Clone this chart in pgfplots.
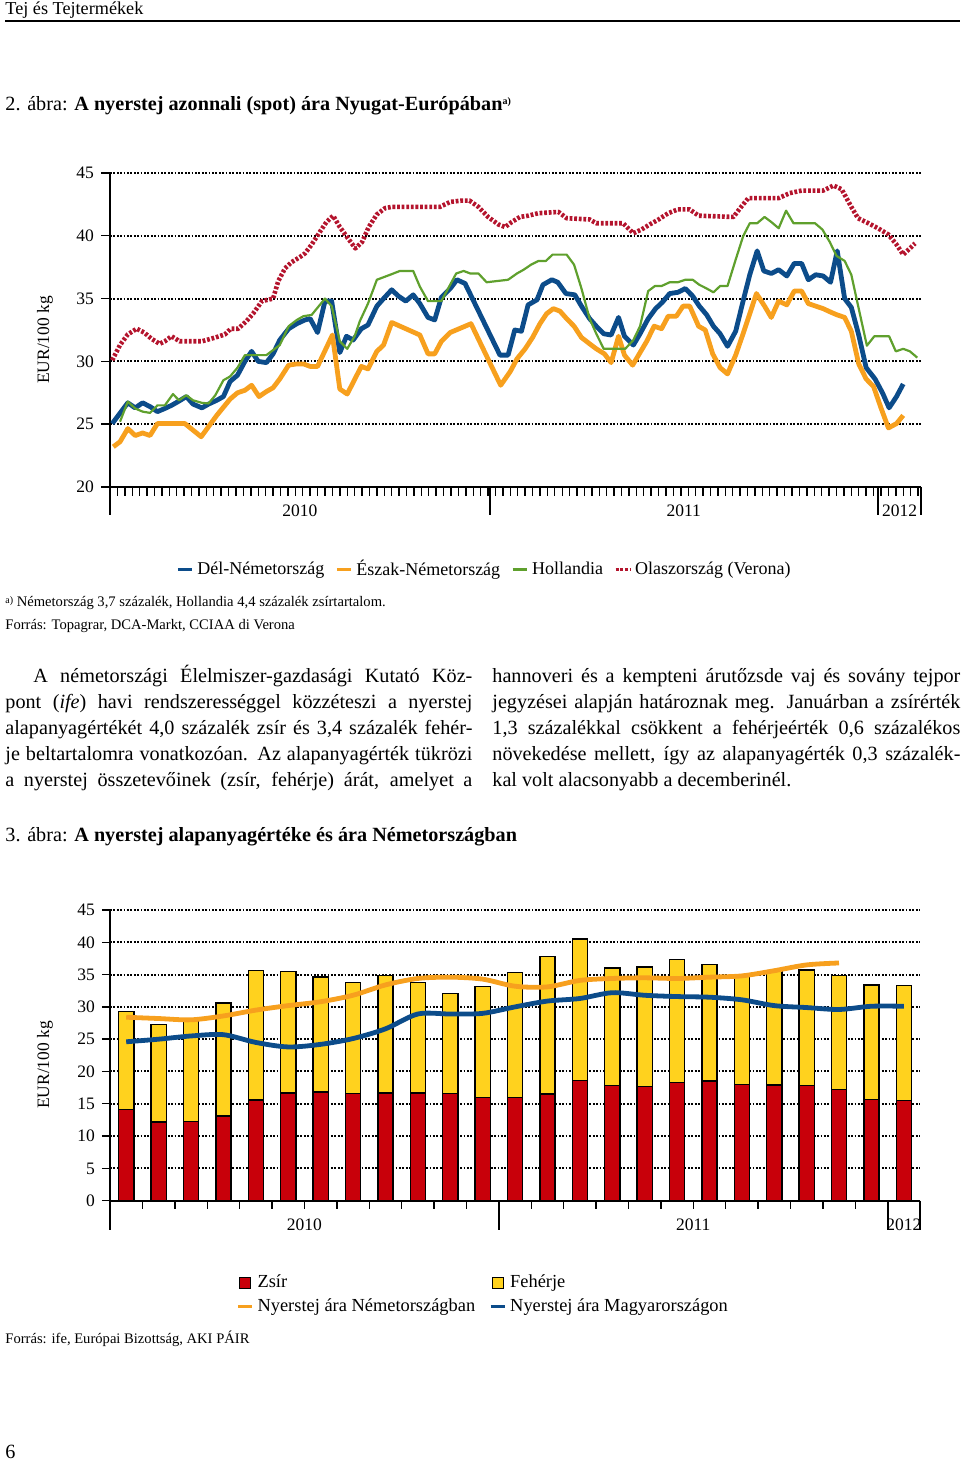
\documentclass[border=0pt]{standalone}
\usepackage{pgfplots}
\pgfplotsset{compat=1.18}
\usepackage{fontspec}
\setmainfont{Liberation Serif}
\definecolor{cblue}{RGB}{12,76,138}
\definecolor{corange}{RGB}{247,160,30}
\definecolor{cgreen}{RGB}{95,160,45}
\definecolor{cred}{RGB}{180,20,45}
\definecolor{zsir}{RGB}{200,0,10}
\definecolor{feh}{RGB}{255,210,30}
\newcommand{\bodyfont}{\fontsize{10.1}{12}\selectfont}
\newcommand{\smallfont}{\fontsize{7.3}{9}\selectfont}
\newcommand{\tickfont}{\fontsize{8.75}{10}\selectfont}
\begin{document}
\begin{tikzpicture}[x=0.5pt,y=0.5pt]
\useasboundingbox (0,0) rectangle (960,1463);
% header
\node[anchor=base west,inner sep=0] at (5,1448) {\fontsize{9.1}{11}\selectfont Tej és Tejtermékek};
\draw[line width=1.1pt] (5,1442.3) -- (960,1442.3);
\node[anchor=base west,inner sep=0] at (5,1352) {\bodyfont 2. ábra: \textbf{A nyerstej azonnali (spot) ára Nyugat-Európában}\raisebox{0.7ex}{\fontsize{5}{6}\selectfont\bfseries a)}};

% ---------------- chart 1 ----------------
\begin{axis}[
  at={(55pt,488pt)}, anchor=south west,
  scale only axis, width=405.5pt, height=157pt,
  xmin=0, xmax=109.4, ymin=20, ymax=45,
  axis x line*=bottom, axis y line*=left,
  axis line style={line width=0.9pt,-},
  clip=false,
  tick align=outside, major tick length=4.5pt,
  xtick={0,1,...,109}, xticklabel=\empty,
  ytick={20,25,...,45},
  tick style={line width=0.7pt, black},
  tick label style={font=\tickfont},
  /pgf/number format/assume math mode=true,
  ymajorgrids, grid style={line width=1pt, black, dash pattern=on 0.9pt off 0.8pt},
  legend columns=4,
  legend style={at={(0.463,-0.262)}, anchor=center, draw=none, fill=none,
    font=\fontsize{9}{10}\selectfont, inner sep=0pt,
    /tikz/every even column/.append style={column sep=3.5pt}},
  legend image code/.code={\draw[#1, line width=1.5pt] (0pt,0pt) -- (7pt,0pt);},
  every axis plot/.append style={line join=round},
]
\addplot[cblue, line width=2.4pt] coordinates {
(0.3,25.05) (2.4,26.7) (3.4,26.3) (4.4,26.7) (5.4,26.4) (6.4,26.0) (7.4,26.25) (8.3,26.5) (9.2,26.8) (10.3,27.2)
(11.2,26.6) (12.4,26.3) (13.3,26.6) (14.4,26.9) (15.3,27.2) (16.2,28.4) (17.2,28.9) (18.2,30.0) (19.1,30.8) (20.0,30.0)
(21.1,29.9) (22.0,30.6) (22.9,31.7) (24.1,32.6) (25.2,33.0) (26.3,33.3) (27.0,33.4) (28.0,32.3) (29.0,34.8) (29.9,34.8)
(31.0,30.7) (31.9,32.0) (32.8,31.7) (33.9,32.6) (34.8,32.9) (36.0,34.4) (36.9,35.0) (38.0,35.7) (38.9,35.2) (39.9,34.8)
(40.9,35.3) (41.8,34.6) (42.9,33.5) (43.8,33.3) (44.7,35.1) (45.9,35.8) (46.8,36.5) (47.9,36.2) (52.6,30.5) (53.7,30.5)
(54.6,32.5) (55.5,32.4) (56.4,34.5) (57.6,34.9) (58.4,36.1) (59.6,36.5) (60.4,36.3) (61.5,35.4) (62.7,35.3) (63.6,34.4)
(64.7,33.4) (65.6,32.8) (66.6,32.2) (67.6,32.1) (68.6,33.5) (69.4,32.0) (70.6,31.3) (71.5,32.2) (72.6,33.4) (73.6,34.2)
(74.5,34.7) (75.5,35.4) (76.6,35.5) (77.6,35.8) (78.6,35.2) (79.5,34.4) (80.5,33.7) (81.4,32.8) (82.3,32.2) (83.3,31.2)
(84.4,32.4) (85.4,34.8) (86.3,36.9) (87.3,38.8) (88.2,37.2) (89.2,37.0) (90.2,37.3) (91.3,36.8) (92.3,37.8) (93.3,37.8)
(94.2,36.5) (95.2,36.9) (96.2,36.8) (97.2,36.3) (98.1,38.8) (99.1,35.0) (100.0,34.3) (101.0,32.1) (102.0,29.5) (103.2,28.6)
(104.2,27.5) (105.1,26.3) (106.1,27.2) (107.0,28.2)};
\addlegendentry{Dél-Németország}
\addplot[corange, line width=2.4pt] coordinates {
(0.45,23.2) (1.35,23.6) (2.4,24.65) (3.4,24.1) (4.4,24.3) (5.4,24.1) (6.4,25.05) (10.1,25.05) (12.3,24.0) (14.4,25.7)
(16.2,27.0) (17.2,27.5) (18.2,27.7) (19.1,28.1) (20.1,27.2) (21.1,27.6) (22.0,27.9) (22.9,28.6) (24.1,29.7) (25.2,29.8)
(26.1,29.8) (27.0,29.6) (28.0,29.6) (30.0,32.1) (31.0,27.8) (32.0,27.4) (33.9,29.6) (34.8,29.4) (36.0,30.8) (36.9,31.3)
(38.0,33.1) (41.8,32.1) (42.9,30.6) (43.8,30.6) (44.7,31.6) (45.9,32.3) (48.7,33.0) (52.7,28.1) (54.0,29.2) (54.9,30.2)
(56.0,31.0) (57.0,31.9) (58.0,33.0) (58.9,33.8) (59.8,34.2) (60.7,34.0) (61.6,33.4) (62.6,32.8) (63.6,31.9) (64.7,31.4)
(65.6,31.0) (66.7,30.6) (67.6,29.9) (68.6,32.0) (69.4,30.5) (70.5,29.7) (71.5,30.7) (72.4,31.6) (73.4,32.8) (74.4,32.6)
(75.3,33.6) (76.4,33.6) (77.3,34.4) (78.2,34.4) (79.4,32.8) (80.3,32.5) (81.3,30.6) (82.3,29.5) (83.3,29.0) (84.4,30.5)
(85.4,32.2) (86.3,33.8) (87.2,35.4) (88.3,34.4) (89.2,33.5) (90.2,34.8) (91.3,34.5) (92.3,35.6) (93.3,35.6) (94.2,34.6)
(95.2,34.4) (96.2,34.2) (97.3,33.9) (98.1,33.7) (99.1,33.5) (100.0,32.4) (101.0,29.8) (102.0,28.6) (103.0,28.0) (104.0,26.3)
(105.0,24.7) (106.1,25.05) (107.0,25.7)};
\addlegendentry{Észak-Németország}
\addplot[cgreen, line width=1.1pt] coordinates {
(1.35,25.2) (2.4,26.8) (3.4,26.25) (4.4,26.0) (5.4,25.9) (6.4,26.5) (7.4,26.5) (8.5,27.4) (9.3,26.9) (10.3,27.3)
(11.2,26.9) (12.4,26.7) (13.3,26.65) (14.2,27.3) (15.3,28.5) (16.2,28.8) (17.2,29.5) (18.2,30.5) (21.1,30.5) (22.0,30.9)
(22.9,31.3) (24.1,32.8) (25.2,33.3) (26.1,33.6) (27.2,33.7) (29.0,35.0) (29.9,34.4) (31.0,31.6) (32.0,31.0) (33.0,32.0)
(33.7,33.2) (34.8,34.6) (36.0,36.5) (37.8,36.9) (39.1,37.2) (40.9,37.2) (41.8,35.95) (42.9,34.8) (44.7,34.8) (46.7,37.0)
(47.7,37.2) (48.6,37.0) (49.7,37.0) (50.8,36.3) (53.7,36.5) (54.9,37.0) (55.8,37.3) (56.8,37.7) (57.8,38.0) (58.8,38.0)
(59.7,38.5) (61.6,38.5) (62.6,37.7) (63.6,35.8) (64.7,33.4) (65.6,32.2) (66.6,31.0) (69.5,31.0) (70.6,31.7) (71.5,32.8)
(72.6,35.6) (73.5,36.0) (74.4,36.0) (75.5,36.3) (76.6,36.3) (77.6,36.5) (78.6,36.5) (79.5,36.1) (80.5,35.8) (81.4,35.5)
(82.3,36.0) (83.3,36.0) (84.4,38.1) (85.4,39.95) (86.3,41.0) (87.3,41.0) (88.3,41.5) (89.2,41.1) (90.2,40.6) (91.2,42.0)
(92.2,41.0) (95.1,41.0) (96.1,40.5) (97.1,39.5) (98.0,38.4) (99.1,38.0) (100.0,36.9) (101.0,34.2) (102.1,31.25) (103.1,32.0)
(105.1,32.0) (106.0,30.8) (107.0,31.0) (107.9,30.8) (108.9,30.3)};
\addlegendentry{Hollandia}
\addplot[cred, line width=2.3pt, dash pattern=on 1.4pt off 0.9pt] coordinates {
(0.3,30.1) (1.35,31.3) (2.4,32.15) (3.6,32.6) (4.6,32.3) (5.6,31.8) (6.7,31.4) (7.4,31.6) (8.3,32.0) (9.4,31.6)
(12.4,31.6) (14.2,31.9) (15.5,32.15) (16.3,32.6) (17.3,32.6) (18.4,33.2) (19.3,33.8) (20.5,34.8) (22.0,35.0) (22.7,36.4)
(23.6,37.4) (24.5,37.9) (25.6,38.3) (26.3,38.6) (27.2,39.3) (28.3,40.3) (29.2,41.1) (30.1,41.6) (31.0,40.7) (32.1,39.8)
(33.1,39.0) (34.0,39.5) (34.9,40.7) (36.0,41.7) (37.1,42.2) (38.0,42.3) (44.5,42.3) (45.9,42.7) (47.4,42.8) (48.5,42.8)
(49.7,42.3) (51.0,41.5) (52.4,40.9) (53.3,40.7) (54.2,41.1) (55.3,41.5) (56.4,41.6) (57.8,41.8) (60.5,41.9) (61.6,41.4)
(64.7,41.3) (65.6,41.0) (69.2,41.0) (70.6,40.2) (71.7,40.5) (72.8,40.9) (74.0,41.3) (75.3,41.8) (76.6,42.1) (78.2,42.1)
(79.4,41.6) (84.1,41.5) (85.0,42.2) (86.1,43.0) (90.2,43.0) (91.7,43.4) (93.3,43.6) (96.2,43.6) (97.6,44.0) (98.7,43.7)
(100.0,42.3) (100.9,41.4) (102.3,41.0) (103.6,40.6) (105.0,40.1) (106.1,39.3) (107.0,38.5) (107.9,39.0) (108.6,39.4)};
\addlegendentry{Olaszország (Verona)}
\draw[line width=0.9pt] (axis cs:0,20) -- ++(0pt,-14pt);
\draw[line width=0.9pt] (axis cs:51.3,20) -- ++(0pt,-14pt);
\draw[line width=0.9pt] (axis cs:103.6,20) -- ++(0pt,-14pt);
\draw[line width=0.9pt] (axis cs:109.4,20) -- ++(0pt,-14pt);
\node[anchor=base, inner sep=0, font=\tickfont, yshift=-15pt] at (axis cs:25.6,20) {2010};
\node[anchor=base, inner sep=0, font=\tickfont, yshift=-15pt] at (axis cs:77.4,20) {2011};
\node[anchor=base, inner sep=0, font=\tickfont, yshift=-15pt] at (axis cs:106.5,20) {2012};
\end{axis}
\node[rotate=90, inner sep=0, font=\fontsize{8.7}{10}\selectfont] at (45,1123) {EUR/100 kg};

% footnotes
\node[anchor=base west,inner sep=0] at (5,856) {\smallfont\raisebox{0.5ex}{\fontsize{5}{6}\selectfont a)} Németország 3,7 százalék, Hollandia 4,4 százalék zsírtartalom.};
\node[anchor=base west,inner sep=0] at (5,833) {\smallfont Forrás: Topagrar, DCA-Markt, CCIAA di Verona};

% body text
\node[anchor=base west,inner sep=0] at (5,780) {\bodyfont\makebox[233.5pt][s]{\hspace*{14pt}A németországi Élelmiszer-gazdasági Kutató Köz-}};
\node[anchor=base west,inner sep=0] at (5,754) {\bodyfont\makebox[233.5pt][s]{pont (\textit{ife}) havi rendszerességgel közzéteszi a nyerstej}};
\node[anchor=base west,inner sep=0] at (5,728) {\bodyfont\makebox[233.5pt][s]{alapanyagértékét 4,0 százalék zsír és 3,4 százalék fehér-}};
\node[anchor=base west,inner sep=0] at (5,702) {\bodyfont\makebox[233.5pt][s]{je beltartalomra vonatkozóan. Az alapanyagérték tükrözi}};
\node[anchor=base west,inner sep=0] at (5,676) {\bodyfont\makebox[233.5pt][s]{a nyerstej összetevőinek (zsír, fehérje) árát, amelyet a}};
\node[anchor=base west,inner sep=0] at (492,780) {\bodyfont\makebox[234pt][s]{hannoveri és a kempteni árutőzsde vaj és sovány tejpor}};
\node[anchor=base west,inner sep=0] at (492,754) {\bodyfont\makebox[234pt][s]{jegyzései alapján határoznak meg. Januárban a zsírérték}};
\node[anchor=base west,inner sep=0] at (492,728) {\bodyfont\makebox[234pt][s]{1,3 százalékkal csökkent a fehérjeérték 0,6 százalékos}};
\node[anchor=base west,inner sep=0] at (492,702) {\bodyfont\makebox[234pt][s]{növekedése mellett, így az alapanyagérték 0,3 százalék-}};
\node[anchor=base west,inner sep=0] at (492,676) {\bodyfont kal volt alacsonyabb a decemberinél.};

\node[anchor=base west,inner sep=0] at (5,621) {\bodyfont 3. ábra: \textbf{A nyerstej alapanyagértéke és ára Németországban}};

% ---------------- chart 2 ----------------
\begin{axis}[
  at={(55pt,131.15pt)}, anchor=south west,
  scale only axis, width=405pt, height=145.35pt,
  xmin=0, xmax=25, ymin=0, ymax=45,
  ybar stacked, bar width=7.6pt,
  axis x line*=bottom, axis y line*=left,
  axis line style={line width=0.9pt,-},
  clip=false,
  tick align=outside, major tick length=4pt,
  xtick={0,1,...,25}, xticklabel=\empty,
  ytick={0,5,...,45},
  tick style={line width=0.7pt, black},
  tick label style={font=\tickfont},
  /pgf/number format/assume math mode=true,
  ymajorgrids, grid style={line width=1pt, black, dash pattern=on 0.9pt off 0.8pt},
]
\addplot[fill=zsir, draw=black, line width=0.7pt] coordinates {
(0.5,14.1) (1.5,12.2) (2.5,12.3) (3.5,13.1) (4.5,15.6) (5.5,16.7) (6.5,16.8) (7.5,16.6) (8.5,16.7) (9.5,16.7)
(10.5,16.6) (11.5,16.0) (12.5,16.0) (13.5,16.5) (14.5,18.6) (15.5,17.8) (16.5,17.7) (17.5,18.3) (18.5,18.5) (19.5,18.0)
(20.5,17.9) (21.5,17.8) (22.5,17.2) (23.5,15.7) (24.5,15.5)};
\addplot[fill=feh, draw=black, line width=0.7pt] coordinates {
(0.5,15.2) (1.5,15.1) (2.5,15.7) (3.5,17.5) (4.5,20.0) (5.5,18.8) (6.5,17.8) (7.5,17.2) (8.5,18.2) (9.5,17.1)
(10.5,15.5) (11.5,17.2) (12.5,19.3) (13.5,21.3) (14.5,21.9) (15.5,18.2) (16.5,18.5) (17.5,19.0) (18.5,18.1) (19.5,17.0)
(20.5,17.7) (21.5,17.9) (22.5,17.7) (23.5,17.7) (24.5,17.8)};
\draw[line width=0.9pt] (axis cs:0,0) -- ++(0pt,-14.5pt);
\draw[line width=0.9pt] (axis cs:12,0) -- ++(0pt,-14.5pt);
\draw[line width=0.9pt] (axis cs:24,0) -- ++(0pt,-14.5pt);
\draw[line width=0.9pt] (axis cs:25,0) -- ++(0pt,-14.5pt);
\node[anchor=base, inner sep=0, font=\tickfont, yshift=-14.7pt] at (axis cs:6,0) {2010};
\node[anchor=base, inner sep=0, font=\tickfont, yshift=-14.7pt] at (axis cs:18,0) {2011};
\node[anchor=base, inner sep=0, font=\tickfont, yshift=-14.7pt] at (axis cs:24.5,0) {2012};
\end{axis}
\begin{axis}[
  at={(55pt,131.15pt)}, anchor=south west,
  scale only axis, width=405pt, height=145.35pt,
  xmin=0, xmax=25, ymin=0, ymax=45,
  axis lines=none, clip=false,
  legend columns=2,
  legend cell align=left,
  legend style={at={(0.462,-0.324)}, anchor=center, draw=none, fill=none,
    font=\fontsize{9.2}{10}\selectfont, inner sep=0pt, row sep=0pt,
    /tikz/every even column/.append style={column sep=5pt}},
  legend image code/.code={\draw[#1, line width=1.5pt] (0pt,0pt) -- (7pt,0pt);},
]
\addlegendimage{legend image code/.code={\draw[fill=zsir, draw=black, line width=0.6pt] (0.8pt,-2.8pt) rectangle (6.3pt,2.8pt);}}
\addlegendentry{Zsír}
\addlegendimage{legend image code/.code={\draw[fill=feh, draw=black, line width=0.6pt] (0.8pt,-2.8pt) rectangle (6.3pt,2.8pt);}}
\addlegendentry{Fehérje}
\addplot[corange, line width=2.4pt, smooth] coordinates {
(0.5,28.4) (1.5,28.2) (2.5,28.0) (3.5,28.6) (4.5,29.5) (5.5,30.2) (6.5,30.8) (7.5,31.8) (8.5,33.4) (9.5,34.4)
(10.5,34.6) (11.5,34.3) (12.5,33.2) (13.5,33.1) (14.5,34.1) (15.5,34.4) (16.5,34.5) (17.5,34.4) (18.5,34.6) (19.5,34.8)
(20.5,35.6) (21.5,36.5) (22.5,36.8)};
\addlegendentry{Nyerstej ára Németországban}
\addplot[cblue, line width=2.4pt, smooth] coordinates {
(0.5,24.6) (1.5,25.0) (2.5,25.5) (3.5,25.7) (4.5,24.5) (5.5,23.8) (6.5,24.2) (7.5,25.1) (8.5,26.6) (9.5,28.9)
(10.5,28.9) (11.5,29.0) (12.5,30.0) (13.5,30.9) (14.5,31.3) (15.5,32.2) (16.5,31.8) (17.5,31.6) (18.5,31.5) (19.5,31.1)
(20.5,30.2) (21.5,29.9) (22.5,29.6) (23.5,30.1) (24.5,30.1)};
\addlegendentry{Nyerstej ára Magyarországon}
\end{axis}
\node[rotate=90, inner sep=0, font=\fontsize{8.7}{10}\selectfont] at (45,398) {EUR/100 kg};
\node[anchor=base west,inner sep=0] at (5,119) {\smallfont Forrás: ife, Európai Bizottság, AKI PÁIR};
\node[anchor=base west,inner sep=0] at (5,4) {\bodyfont 6};
\end{tikzpicture}
\end{document}
